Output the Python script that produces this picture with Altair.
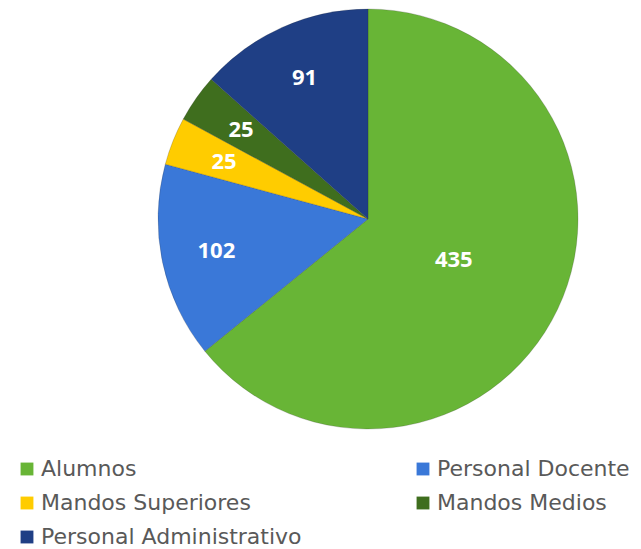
import altair as alt
import pandas as pd

categories = ["Alumnos", "Personal Docente", "Mandos Superiores", "Mandos Medios", "Personal Administrativo"]
values = [435, 102, 25, 25, 91]
colors = ["#68B536", "#3A78D8", "#FFCC00", "#3F6E1E", "#1F3F85"]

total = sum(values)
df = pd.DataFrame({"cat": categories, "val": values, "idx": list(range(len(categories)))})

color = alt.Color("cat:N", scale=alt.Scale(domain=categories, range=colors),
                  legend=alt.Legend(title=None, orient="none", legendX=8, legendY=449,
                                    columns=2, direction="horizontal", columnPadding=110, rowPadding=12,
                                    symbolType="square", symbolSize=165, symbolStrokeWidth=0,
                                    labelFont="DejaVu Sans", labelFontSize=22, labelColor="#595959",
                                    labelOffset=3, labelLimit=400))

tscale = alt.Scale(domain=[0, total], nice=False, zero=True)

base = alt.Chart(df).transform_stack(
    stack="val", groupby=[], as_=["v0", "v1"], sort=[alt.SortField("idx", order="ascending")]
).transform_calculate(
    mid="(datum.v0 + datum.v1) / 2"
)

pie = base.mark_arc(radius=210, stroke="#2a2a2a", strokeWidth=0.4, strokeOpacity=0.5).encode(
    theta=alt.Theta("v0:Q", scale=tscale), theta2="v1:Q", color=color,
    x=alt.value(360), y=alt.value(210),
)

txt_kw = dict(fontSize=22, fontWeight="bold", font="Open Sans", color="white")
lab_big = base.transform_filter(alt.datum.cat == "Alumnos").mark_text(radius=95, **txt_kw).encode(
    theta=alt.Theta("mid:Q", scale=tscale), text="val:Q", x=alt.value(360), y=alt.value(210))
lab_small = base.transform_filter(alt.datum.cat != "Alumnos").mark_text(radius=155, **txt_kw).encode(
    theta=alt.Theta("mid:Q", scale=tscale), text="val:Q", x=alt.value(360), y=alt.value(210))

chart = alt.layer(pie, lab_big, lab_small).properties(
    width=625, height=420, padding=0
).configure_view(stroke=None)

chart.save("out.html", embed_options={"renderer": "svg", "actions": False})
